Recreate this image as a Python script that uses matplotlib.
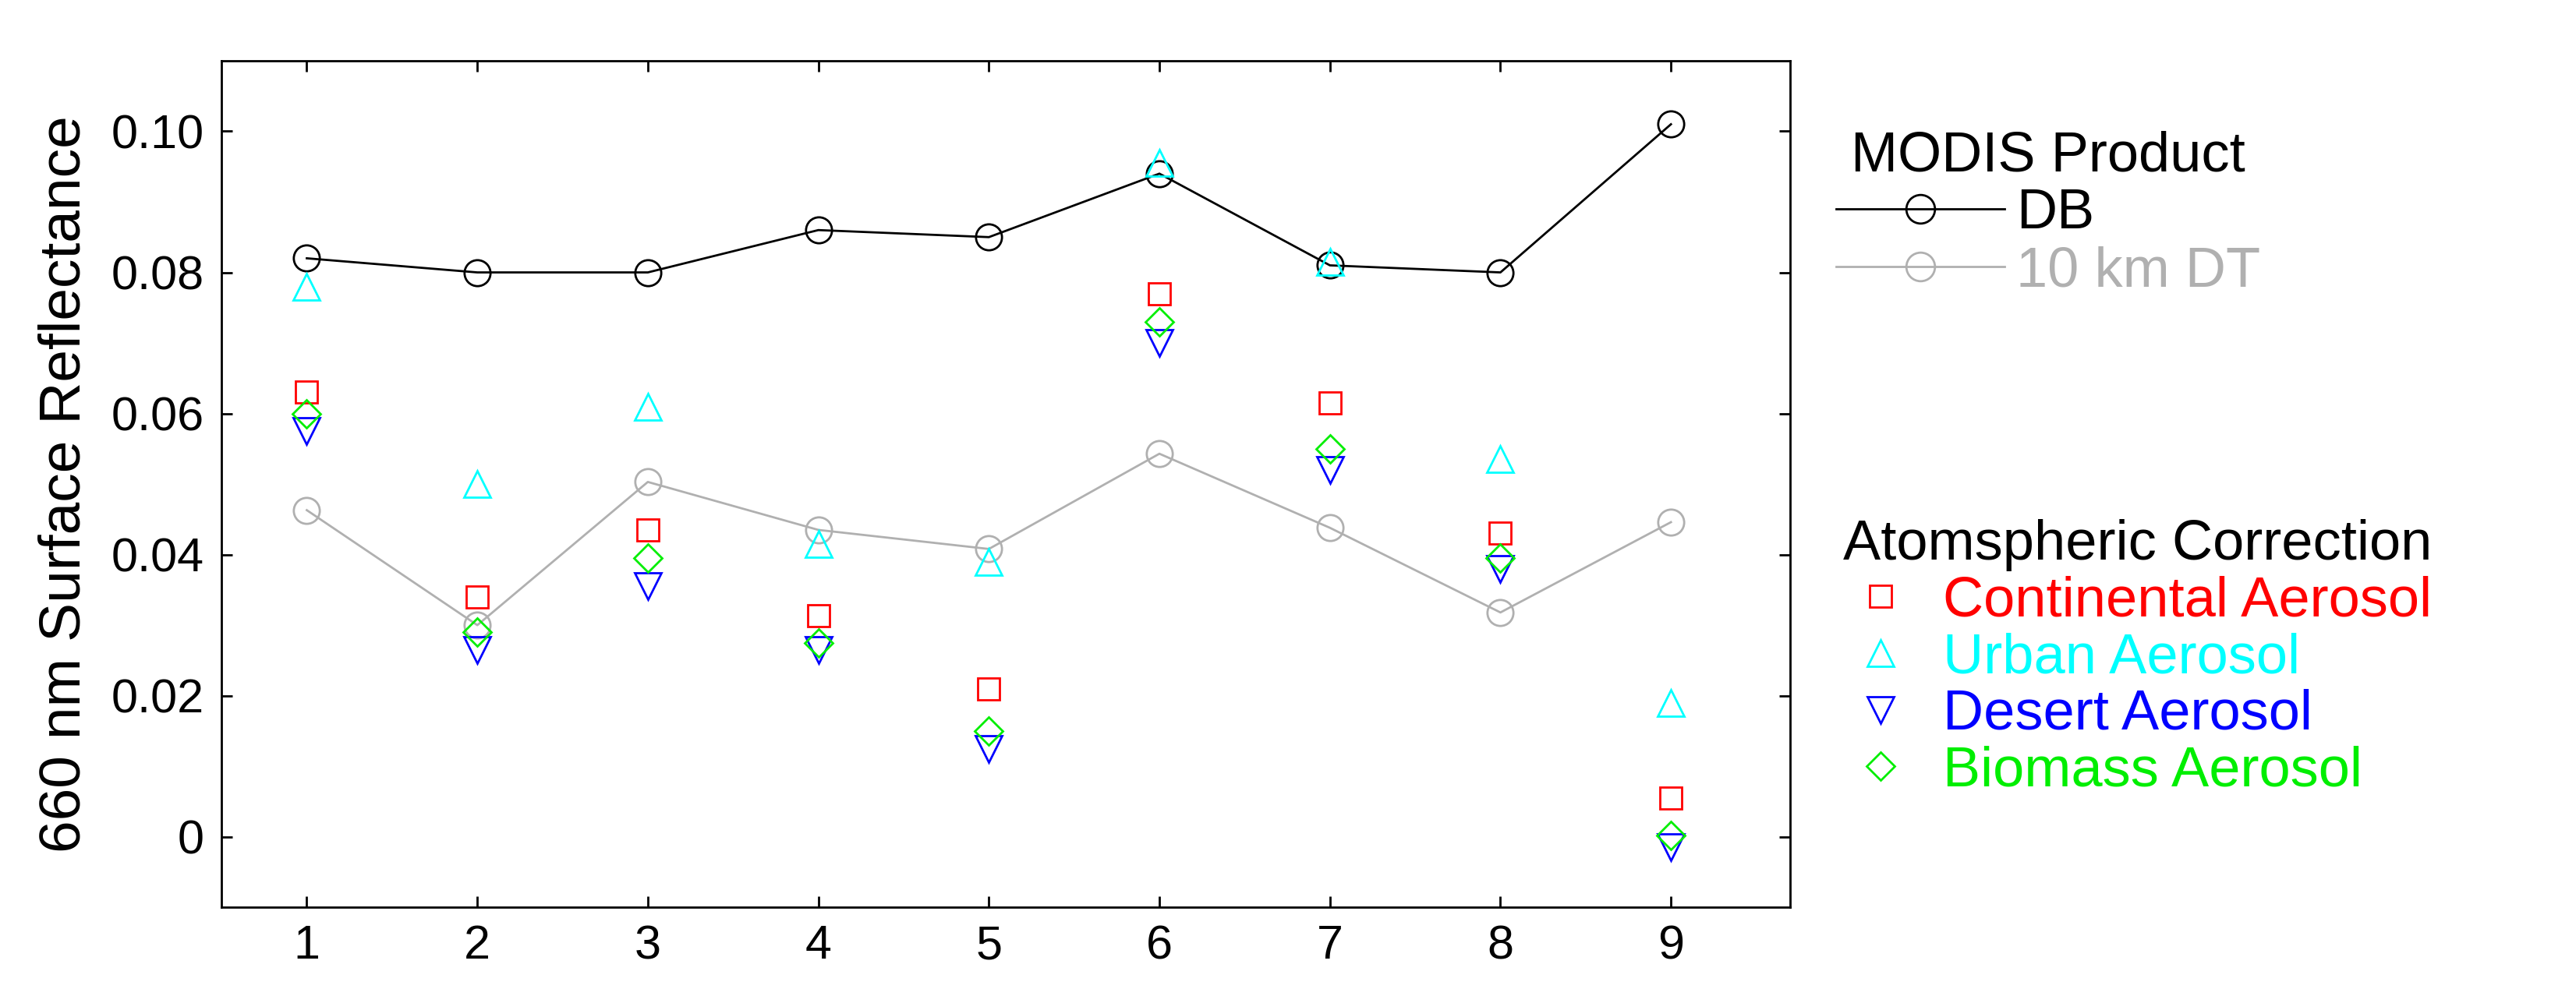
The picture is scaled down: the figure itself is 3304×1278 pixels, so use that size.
import matplotlib
matplotlib.use('Agg')
import matplotlib.pyplot as plt
import numpy as np

plt.rcParams['font.family'] = ['Liberation Sans', 'DejaVu Sans']

x = np.arange(1, 10)
db = [0.082, 0.080, 0.080, 0.086, 0.085, 0.094, 0.081, 0.080, 0.101]
dt = [0.0463, 0.0300, 0.0503, 0.0435, 0.0408, 0.0543, 0.0438, 0.0318, 0.0446]
continental = [0.063, 0.034, 0.0435, 0.0313, 0.021, 0.077, 0.0615, 0.043, 0.0055]
urban = [0.078, 0.050, 0.061, 0.0415, 0.039, 0.0955, 0.0815, 0.0535, 0.019]
desert = [0.0575, 0.0265, 0.0355, 0.0265, 0.0125, 0.070, 0.052, 0.038, -0.0015]
biomass = [0.060, 0.029, 0.0395, 0.0275, 0.015, 0.073, 0.055, 0.0395, 0.0002]

fig = plt.figure(figsize=(33.04, 12.78), dpi=100)
ax = fig.add_axes([0.086, 0.089, 0.609, 0.85])

ms = 24
h_db, = ax.plot(x, db, color='black', marker='o', mfc='none', ms=ms, mew=2, lw=2, label='DB')
h_dt, = ax.plot(x, dt, color='#b0b0b0', marker='o', mfc='none', ms=ms, mew=2, lw=2, label='10 km DT')
h_c, = ax.plot(x, continental, ls='none', color='red', marker='s', mfc='none', ms=20, mew=2, label='Continental Aerosol')
h_u, = ax.plot(x, urban, ls='none', color='cyan', marker='^', mfc='none', ms=ms, mew=2, label='Urban Aerosol')
h_d, = ax.plot(x, desert, ls='none', color='blue', marker='v', mfc='none', ms=ms, mew=2, label='Desert Aerosol')
h_b, = ax.plot(x, biomass, ls='none', color='#00ee00', marker='D', mfc='none', ms=18, mew=2, label='Biomass Aerosol')

ax.set_xlim(0.5, 9.7)
ax.set_ylim(-0.01, 0.11)
ax.set_xticks(x)
ax.set_yticks([0, 0.02, 0.04, 0.06, 0.08, 0.10])
ax.set_yticklabels(['0', '0.02', '0.04', '0.06', '0.08', '0.10'])
ax.tick_params(labelsize=44, direction='in', length=10, width=2, top=True, right=True, pad=16)
for s in ax.spines.values():
    s.set_linewidth(2)
ax.set_ylabel('660 nm Surface Reflectance', fontsize=54, labelpad=18)

leg1 = fig.legend(handles=[h_db, h_dt], title='MODIS Product', loc='upper left',
                  bbox_to_anchor=(0.693, 0.92), frameon=False, fontsize=52,
                  title_fontsize=52, labelcolor=['black', '#b0b0b0'],
                  handlelength=3.0, handletextpad=0.2, labelspacing=0.1,
                  alignment='center', markerscale=1.1)
leg2 = fig.legend(handles=[h_c, h_u, h_d, h_b], title='Atomspheric Correction', loc='upper left',
                  bbox_to_anchor=(0.693, 0.53), frameon=False, fontsize=52,
                  title_fontsize=52, labelcolor=['red', 'cyan', 'blue', '#00ee00'],
                  handlelength=1.6, handletextpad=0.3, labelspacing=0.08,
                  alignment='right')
fig.savefig('out.png', dpi=100)
